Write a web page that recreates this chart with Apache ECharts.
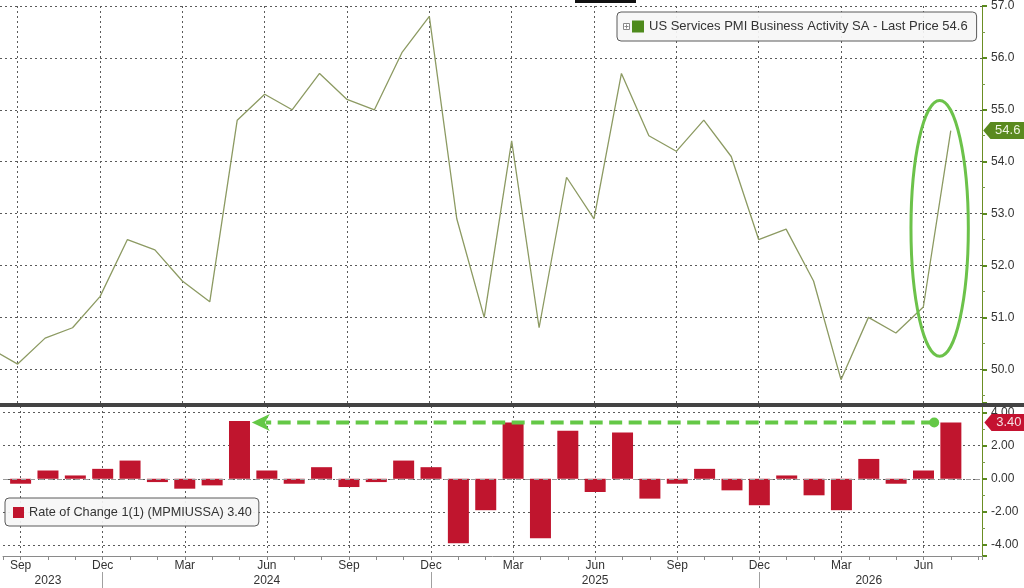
<!DOCTYPE html>
<html>
<head>
<meta charset="utf-8">
<script src="https://cdn.jsdelivr.net/npm/echarts@6/dist/echarts.min.js"></script>
<style>html,body{margin:0;padding:0;background:#fff}#c{width:1024px;height:588px}</style>
</head>
<body>
<div id="c"></div>
<script>
// ---------- data ----------
const months = ['Aug 2023','Sep 2023','Oct 2023','Nov 2023','Dec 2023',
  'Jan 2024','Feb 2024','Mar 2024','Apr 2024','May 2024','Jun 2024','Jul 2024','Aug 2024','Sep 2024','Oct 2024','Nov 2024','Dec 2024',
  'Jan 2025','Feb 2025','Mar 2025','Apr 2025','May 2025','Jun 2025','Jul 2025','Aug 2025','Sep 2025','Oct 2025','Nov 2025','Dec 2025',
  'Jan 2026','Feb 2026','Mar 2026','Apr 2026','May 2026','Jun 2026','Jul 2026'];
const pmi = [50.4, 50.1, 50.6, 50.8, 51.4,
  52.5, 52.3, 51.7, 51.3, 54.8, 55.3, 55.0, 55.7, 55.2, 55.0, 56.1, 56.8,
  52.9, 51.0, 54.4, 50.8, 53.7, 52.9, 55.7, 54.5, 54.2, 54.8, 54.1, 52.5,
  52.7, 51.7, 49.8, 51.0, 50.7, 51.2, 54.6];
// rate of change, Sep 2023 .. Jul 2026
const rocMonths = months.slice(1);
const rateOfChange = [-0.3, 0.5, 0.2, 0.6,
  1.1, -0.2, -0.6, -0.4, 3.5, 0.5, -0.3, 0.7, -0.5, -0.2, 1.1, 0.7,
  -3.9, -1.9, 3.4, -3.6, 2.9, -0.8, 2.8, -1.2, -0.3, 0.6, -0.7, -1.6,
  0.2, -1.0, -1.9, 1.2, -0.3, 0.5, 3.4];
const monthTickLabels = ['Sep','Dec','Mar','Jun'];
const yearLabels = ['2023','2024','2025','2026'];
const yearLabelMonths = ['Oct 2023','Jun 2024','Jun 2025','Apr 2026'];
const yearBreakMonths = ['Dec 2023','Dec 2024','Dec 2025'];
const pmiName = 'US Services PMI Business Activity SA';
const rocName = 'Rate of Change 1(1) (MPMIUSSA)';

// ---------- helpers ----------
const FONT = "'Liberation Sans', Arial, sans-serif";
const idx = m => rocMonths.indexOf(m);          // Sep 2023 = 0
const X_MIN = -0.6436, X_MAX = 35.138;
const lastPmi = pmi[pmi.length - 1];
const lastRoc = rateOfChange[rateOfChange.length - 1];
const shortMonth = v => {
  if (!Number.isInteger(v) || v < 0 || v >= rocMonths.length) return '';
  const s = rocMonths[v].split(' ')[0];
  return monthTickLabels.indexOf(s) >= 0 ? s : '';
};
const dottedX = {show: true, showMinLine: false, showMaxLine: false, lineStyle: {color: '#5a5a5a', type: [2, 3], width: 1}};
const dottedY = {show: true, lineStyle: {color: '#5a5a5a', type: [2, 3], width: 1}};
const yLine = {show: true, onZero: false, lineStyle: {color: '#6b8e23', width: 1}};
const yTick = {show: true, length: 5, lineStyle: {color: '#5b8a1e', width: 2}};
const yMinor = {show: true, splitNumber: 2, length: 3, lineStyle: {color: '#7a9a4a', width: 1}};
const yLabel = dec => ({color: '#333', fontSize: 12, fontFamily: FONT, margin: 9,
  formatter: v => Number.isInteger(v) ? v.toFixed(dec) : ''});
const xBase = (g) => ({gridIndex: g, type: 'value', position: 'bottom', min: X_MIN, max: X_MAX,
  axisLine: {show: false, onZero: false}, axisTick: {show: false}, axisLabel: {show: false}, splitLine: {show: false}});

const chart = echarts.init(document.getElementById('c'), null, {renderer: 'canvas'});
const option = {
  backgroundColor: '#fff',
  animation: false,
  grid: [
    {left: -2, top: 0, width: 984, height: 403},
    {left: -2, top: 406, width: 984, height: 150}
  ],
  xAxis: [
    Object.assign(xBase(0), {minInterval: 3, maxInterval: 3, splitLine: dottedX}),
    Object.assign(xBase(1), {minInterval: 3, maxInterval: 3, splitLine: dottedX,
      axisLine: {show: true, onZero: false, lineStyle: {color: '#8a8a8a', width: 1}},
      axisLabel: {show: true, formatter: shortMonth, color: '#333', fontSize: 12, fontFamily: FONT, margin: 4}}),
    Object.assign(xBase(1), {minInterval: 1, maxInterval: 1,
      axisTick: {show: true, length: 4, lineStyle: {color: '#8a8a8a', width: 1}}}),
    Object.assign(xBase(1), {offset: 16,
      axisTick: {show: true, customValues: yearBreakMonths.map(idx), length: 20, lineStyle: {color: '#a0a0a0', width: 1}},
      axisLabel: {show: true, customValues: yearLabelMonths.map(idx), color: '#333', fontSize: 12, fontFamily: FONT, margin: 3,
        formatter: v => yearLabels[yearLabelMonths.map(idx).indexOf(v)] || ''}})
  ],
  yAxis: [
    {gridIndex: 0, type: 'value', position: 'right', min: 49.35, max: 57, minInterval: 1, maxInterval: 1,
      axisLine: yLine, axisTick: yTick, minorTick: yMinor, axisLabel: yLabel(1), splitLine: dottedY},
    {gridIndex: 1, type: 'value', position: 'right', min: -4.67, max: 4.40, minInterval: 2, maxInterval: 2,
      axisLine: yLine, axisTick: yTick, minorTick: yMinor, axisLabel: yLabel(2), splitLine: dottedY}
  ],
  legend: [
    {data: [{name: pmiName, icon: 'rect'}], left: 617, top: 12, padding: [8, 9, 8, 15], itemWidth: 12, itemHeight: 12,
      selectedMode: false, backgroundColor: 'rgba(246,246,246,0.92)', borderColor: '#5a5a5a', borderWidth: 1, borderRadius: 4,
      textStyle: {color: '#333', fontSize: 13, fontFamily: FONT},
      formatter: n => n + ' - Last Price ' + lastPmi.toFixed(1)},
    {data: [{name: rocName, icon: 'rect'}], left: 5, top: 498, padding: [8, 7, 7, 8], itemWidth: 11, itemHeight: 11,
      selectedMode: false, backgroundColor: 'rgba(246,246,246,0.92)', borderColor: '#5a5a5a', borderWidth: 1, borderRadius: 4,
      textStyle: {color: '#333', fontSize: 12.7, fontFamily: FONT},
      formatter: n => n + ' ' + lastRoc.toFixed(2)}
  ],
  series: [
    {type: 'line', name: pmiName, xAxisIndex: 0, yAxisIndex: 0, symbol: 'none',
      data: pmi.map((v, i) => [i - 1, v]),
      lineStyle: {color: '#8c9a62', width: 1.3}, itemStyle: {color: '#4e8a1c'},
      markPoint: {silent: true, symbol: 'path://M0,8L8,0L48,0L48,16L8,16Z', symbolSize: [43, 17], symbolKeepAspect: false,
        symbolOffset: [54, 0], itemStyle: {color: '#5a8a1f'},
        label: {show: true, position: 'inside', color: '#eef5e0', fontSize: 13, fontFamily: FONT, offset: [3, 0],
          formatter: p => p.value.toFixed(1)},
        data: [{coord: [pmi.length - 2, lastPmi], value: lastPmi}]}},
    {type: 'bar', name: rocName, xAxisIndex: 1, yAxisIndex: 1, barWidth: 21,
      data: rateOfChange.map((v, i) => [i, v]),
      itemStyle: {color: '#c0152e'},
      markLine: {silent: true, symbol: 'none', label: {show: false},
        lineStyle: {color: '#9a9a9a', type: [5, 4], width: 1}, data: [{yAxis: 0}]},
      markPoint: {silent: true, symbol: 'path://M0,8L8,0L48,0L48,16L8,16Z', symbolSize: [43, 17], symbolKeepAspect: false,
        symbolOffset: [55, 0], itemStyle: {color: '#c41230'},
        label: {show: true, position: 'inside', color: '#f5e0e3', fontSize: 13, fontFamily: FONT, offset: [3, 0],
          formatter: p => p.value.toFixed(2)},
        data: [{coord: [rateOfChange.length - 1, lastRoc], value: lastRoc}]}}
  ]
};
chart.setOption(option);

// ---------- annotations (positioned through the chart's own scales) ----------
const ellipseSpan = {tLeft: 32.55, tRight: 34.64, vTop: 55.18, vBottom: 50.25};
const arrowSpan = {tFrom: 33.39, tTo: 8.45, level: 3.4};
const topFinder = {xAxisIndex: 0, yAxisIndex: 0};
const botFinder = {xAxisIndex: 1, yAxisIndex: 1};
const eL = chart.convertToPixel(topFinder, [ellipseSpan.tLeft, ellipseSpan.vTop]);
const eR = chart.convertToPixel(topFinder, [ellipseSpan.tRight, ellipseSpan.vBottom]);
const aF = chart.convertToPixel(botFinder, [arrowSpan.tFrom, arrowSpan.level]);
const aT = chart.convertToPixel(botFinder, [arrowSpan.tTo, arrowSpan.level]);
const green = '#64c846';
chart.setOption({
  graphic: [
    {type: 'rect', z: 100, shape: {x: 0, y: 403, width: 1024, height: 4}, style: {fill: '#434343'}},
    {type: 'rect', z: 100, shape: {x: 575, y: 0, width: 61, height: 3}, style: {fill: '#111'}},
    {type: 'rect', z: 101, shape: {x: 623.5, y: 23.5, width: 6, height: 6}, style: {fill: '#fff', stroke: '#888', lineWidth: 1}},
    {type: 'line', z: 101, shape: {x1: 624.5, y1: 26.5, x2: 628.5, y2: 26.5}, style: {stroke: '#888', lineWidth: 1}},
    {type: 'line', z: 101, shape: {x1: 626.5, y1: 24.5, x2: 626.5, y2: 28.5}, style: {stroke: '#888', lineWidth: 1}},
    {type: 'ellipse', z: 100, shape: {cx: (eL[0] + eR[0]) / 2, cy: (eL[1] + eR[1]) / 2, rx: (eR[0] - eL[0]) / 2, ry: (eR[1] - eL[1]) / 2},
      style: {fill: 'none', stroke: '#6cc24a', lineWidth: 3}},
    {type: 'line', z: 100, shape: {x1: aF[0], y1: aF[1], x2: aT[0] + 14, y2: aT[1]},
      style: {stroke: green, lineWidth: 4, lineDash: [13, 6.5]}},
    {type: 'circle', z: 100, shape: {cx: aF[0], cy: aF[1], r: 5}, style: {fill: green}},
    {type: 'polygon', z: 100, shape: {points: [[aT[0], aT[1]], [aT[0] + 18, aT[1] - 8.5], [aT[0] + 13, aT[1]], [aT[0] + 18, aT[1] + 8.5]]},
      style: {fill: green}}
  ]
});
</script>
</body>
</html>
